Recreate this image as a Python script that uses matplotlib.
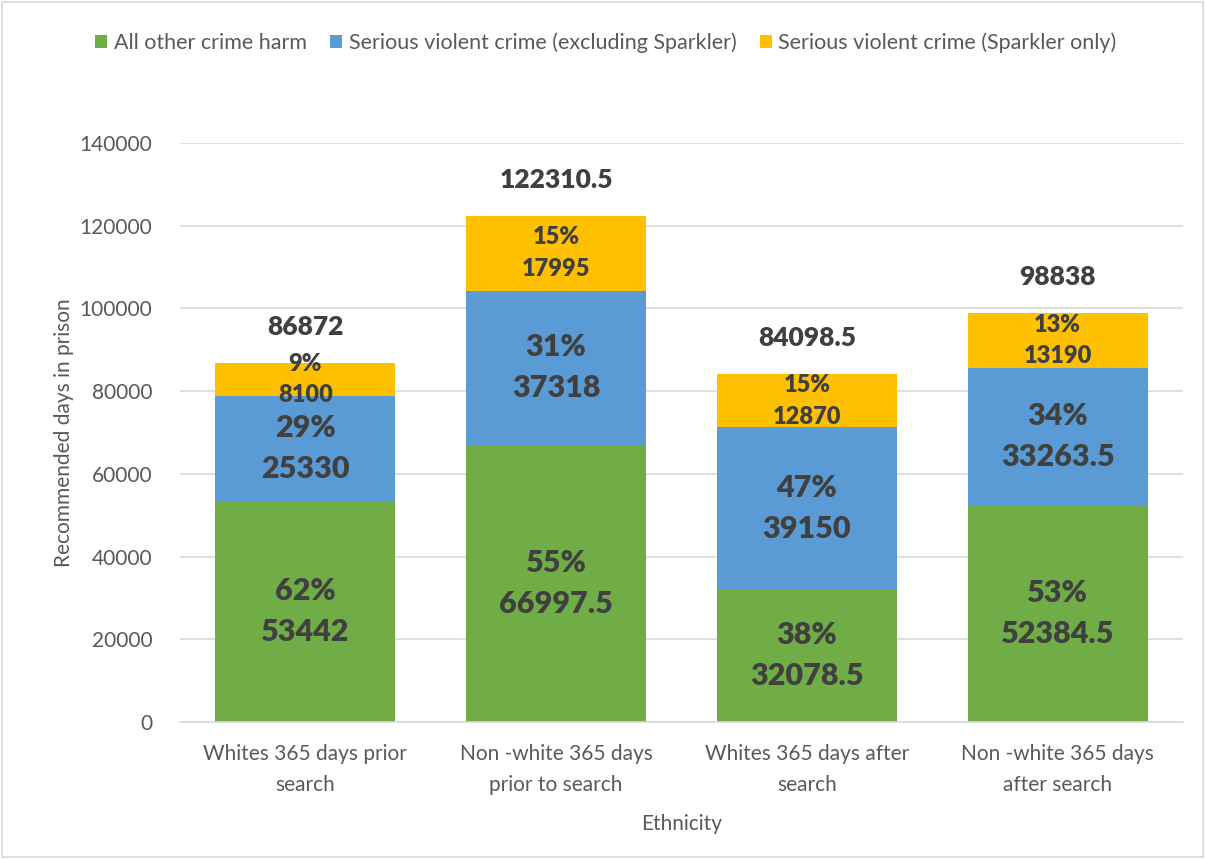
import matplotlib
matplotlib.use("Agg")
import matplotlib.pyplot as plt
import numpy as np

categories = ["Whites 365 days prior\nsearch", "Non -white 365 days\nprior to search",
              "Whites 365 days after\nsearch", "Non -white 365 days\nafter search"]
series_names = ["All other crime harm", "Serious violent crime (excluding Sparkler)",
                "Serious violent crime (Sparkler only)"]
other_harm = [53442, 66997.5, 32078.5, 52384.5]
violent_excl = [25330, 37318, 39150, 33263.5]
sparkler_only = [8100, 17995, 12870, 13190]
yticks = [0, 20000, 40000, 60000, 80000, 100000, 120000, 140000]

colors = ["#70AD47", "#5B9BD5", "#FFC000"]
label_sizes = [22, 22, 17]
text_color = "#404040"
axis_text = "#595959"

plt.rcParams["font.family"] = ["Lato", "DejaVu Sans"]


def fmt(v):
    return f"{v:.1f}" if v % 1 else f"{int(v)}"


fig = plt.figure(figsize=(12.05, 8.59), dpi=100)
ax = fig.add_axes([180 / 1205, 1 - 722 / 859, (1183 - 180) / 1205, (722 - 143) / 859])

x = np.arange(len(categories))
series = [other_harm, violent_excl, sparkler_only]
totals = np.sum(series, axis=0)
bottom = np.zeros(len(categories))
for vals, col, name, fs in zip(series, colors, series_names, label_sizes):
    vals = np.array(vals, dtype=float)
    ax.bar(x, vals, bottom=bottom, width=0.717, color=col, label=name, zorder=2)
    for xi, v, b, t in zip(x, vals, bottom, totals):
        pct = int(round(100 * v / t))
        ax.text(xi, b + v / 2, f"{pct}%\n{fmt(v)}", ha="center", va="center",
                fontsize=fs, fontweight="heavy", color=text_color,
                linespacing=1.55, zorder=3)
    bottom += vals

for xi, t in zip(x, totals):
    ax.annotate(fmt(t), (xi, t), xytext=(0, 26), textcoords="offset points",
                ha="center", va="center", fontsize=19, fontweight="heavy",
                color=text_color)

ax.set_xlim(-0.5, len(categories) - 0.5)
ax.set_ylim(0, 140000)
ax.set_yticks(yticks)
ax.set_yticklabels([str(v) for v in yticks])
ax.set_xticks(x)
ax.set_xticklabels(categories, linespacing=1.65)
ax.tick_params(axis="both", length=0, labelsize=15, colors=axis_text)
ax.tick_params(axis="y", pad=20)
ax.tick_params(axis="x", pad=16)
ax.grid(axis="y", color="#D9D9D9", linewidth=1.2, zorder=0)
ax.set_axisbelow(True)
for side in ["top", "right", "left"]:
    ax.spines[side].set_visible(False)
ax.spines["bottom"].set_color("#D9D9D9")
ax.spines["bottom"].set_linewidth(1.2)

ax.set_ylabel("Recommended days in prison", fontsize=15, color=axis_text, labelpad=4)
ax.set_xlabel("Ethnicity", fontsize=15, color=axis_text, labelpad=14)

leg = fig.legend(loc="upper center", bbox_to_anchor=(0.503, 0.985), ncol=3, frameon=False,
                 fontsize=15.5, handlelength=0.55, handleheight=0.55, handletextpad=0.3,
                 columnspacing=1.1)
for t in leg.get_texts():
    t.set_color(axis_text)

border = plt.Rectangle((0.002, 0.002), 0.996, 0.996, transform=fig.transFigure,
                       fill=False, edgecolor="#D9D9D9", linewidth=1.2)
fig.patches.append(border)

fig.savefig("out.png", dpi=100, facecolor="white")
